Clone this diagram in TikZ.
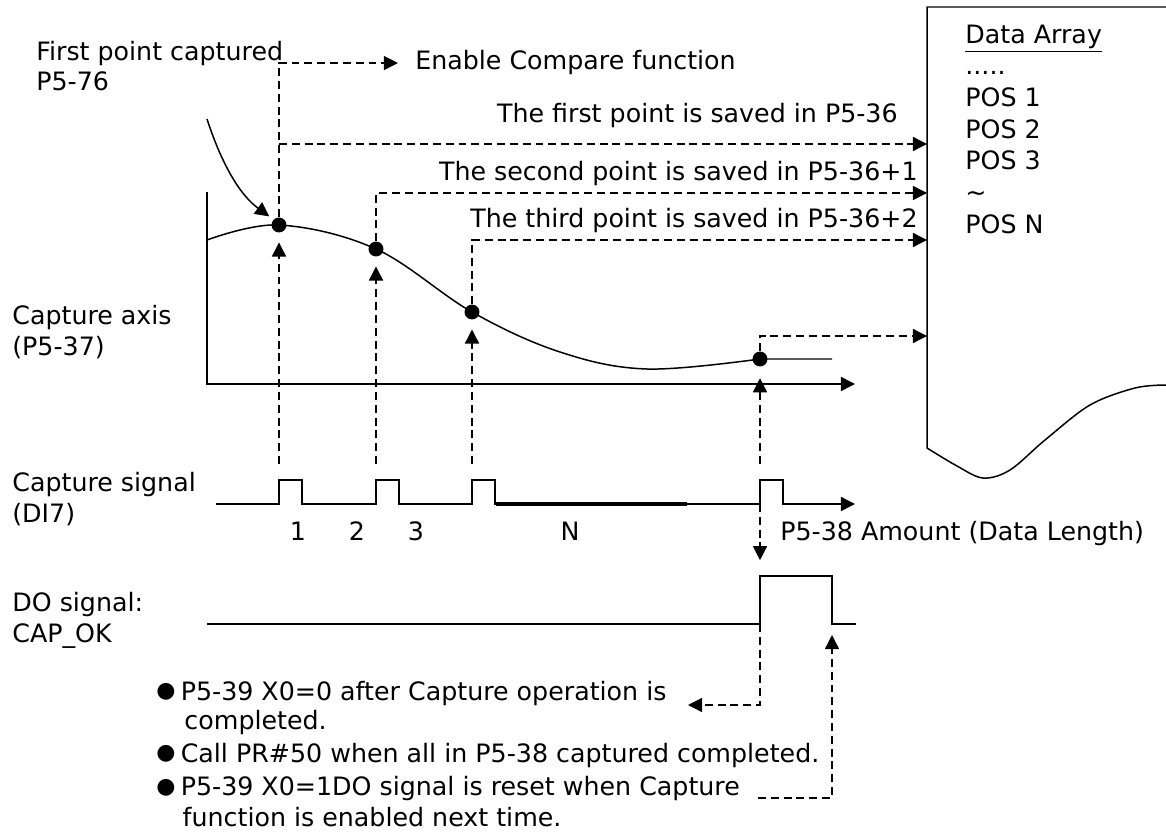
\documentclass[tikz,border=0pt]{standalone}
\usepackage{fontspec}
\setmainfont{DejaVu Sans}
\usetikzlibrary{arrows.meta,calc}

\newcommand{\bulletmark}{\raisebox{1.2pt}{\fontsize{12.5}{12.5}\selectfont ●}\hspace{3pt}}

\begin{document}
\begin{tikzpicture}[x=0.02cm,y=-0.02cm,
  font=\fontsize{14.4}{17.2}\selectfont,
  every node/.style={inner sep=0pt},
  lbl/.style={anchor=base west,align=left},
  tri/.style={-{Triangle[length=8pt,width=8pt]}},
  dsh/.style={dash pattern=on 4.5pt off 2.8pt,line width=0.75pt},
  sig/.style={line width=0.85pt},
  dot/.style={circle,fill,minimum size=8.5pt}]
  \useasboundingbox (0,0) rectangle (1166,838);

  % Labels on the left (base = last line)
  \node[lbl] (first) at (36,91) {First point captured\\P5-76};
  \node[lbl] (axis) at (12,355) {Capture axis\\(P5-37)};
  \node[lbl] (capsig) at (12,522) {Capture signal\\(DI7)};
  \node[lbl] (dosig) at (12,642) {DO signal:\\CAP\_OK};

  % Data array
  \draw[sig] (1166,7) -- (927,7) -- (927,448)
    -- plot[smooth,tension=0.55] coordinates {(927,448) (957,466) (983,478) (1010,470) (1045,440) (1090,405) (1135,388) (1166,385)};
  \node[lbl,font=\fontsize{14.4}{18}\selectfont] (arr) at (965,233)
    {\underline{Data Array}\\.....\\POS 1\\POS 2\\POS 3\\\textasciitilde\\POS N};
  \coordinate (a1) at (927,144);
  \coordinate (a2) at (927,193);
  \coordinate (a3) at (927,240);
  \coordinate (a4) at (927,336);

  % Capture axis and curve
  \draw[sig,tri] (207,192) -- (207,384) -- (855,384);
  \draw[sig] plot[smooth,tension=0.6] coordinates
    {(207,240) (279,225) (376,249) (472,312) (560,352) (647,369) (760,359)} -- (832,359);
  \node[dot] (p1) at (279,225) {};
  \node[dot] (p2) at (376,249) {};
  \node[dot] (p3) at (472,312) {};
  \node[dot] (p4) at (760,359) {};

  % Texts for the saved points
  \node[lbl] (en) at (415,70) {Enable Compare function};
  \node[anchor=base east] (t1) at (898,123) {The first point is saved in P5-36};
  \node[anchor=base east] (t2) at (918,180) {The second point is saved in P5-36+1};
  \node[anchor=base east] (t3) at (918,227) {The third point is saved in P5-36+2};

  % Capture signal
  \draw[sig,tri] (216,504) foreach \x in {279,376,472,760}
    {-- (\x,504) -- (\x,480) -- (\x+23,480) -- (\x+23,504)} -- (855,504);
  \draw[line width=1.8pt] (496,504) -- (687,504);
  \coordinate (c1) at (279,464);
  \coordinate (c2) at (376,464);
  \coordinate (c3) at (472,464);
  \coordinate (c4) at (760,464);
  \coordinate (q4) at (760,504);
  \node[anchor=base] (n1) at (298,540) {1};
  \node[anchor=base] (n2) at (357,540) {2};
  \node[anchor=base] (n3) at (416,540) {3};
  \node[anchor=base] (nn) at (570,540) {N};
  \node[lbl] (amount) at (780,540) {P5-38 Amount (Data Length)};

  % DO signal
  \draw[sig] (207,624) -- (760,624) -- (760,576) -- (832,576) -- (832,624) -- (856,624);
  \coordinate (d1) at (760,624);
  \coordinate (dhi) at (760,576);
  \coordinate (d2) at (832,635);

  % Dashed connectors
  \coordinate (fa) at (207,119);
  \draw[sig,tri,shorten >=3pt] (fa) .. controls (222,165) and (240,195) .. (p1.135);
  \draw[dsh,tri,shorten >=9.7pt] (p1.north) |- (en.west);
  \draw[dsh,tri] (p1.north |- a1) -- (a1);
  \draw[dsh,tri] (p2.north) |- (a2);
  \draw[dsh,tri] (p3.north) |- (a3);
  \draw[dsh,tri] (p4.north) |- (a4);
  \draw[dsh,tri,shorten >=5.5pt] (c1) -- (p1.south);
  \draw[dsh,tri,shorten >=5.5pt] (c2) -- (p2.south);
  \draw[dsh,tri,shorten >=5.5pt] (c3) -- (p3.south);
  \draw[dsh,tri,shorten >=6.5pt] (c4) -- (p4.south);
  \draw[dsh,tri,shorten >=9pt] (q4) -- (dhi);

  % Notes (base = last line)
  \node[lbl,font=\fontsize{14.4}{16.5}\selectfont] (note1) at (156,729) {\bulletmark P5-39 X0=0 after Capture operation is\\\hspace*{16pt}completed.};
  \node[lbl] (note2) at (156,762) {\bulletmark Call PR\#50 when all in P5-38 captured completed.};
  \node[lbl,font=\fontsize{14.4}{17.1}\selectfont] (note3) at (156,826) {\bulletmark P5-39 X0=1DO signal is reset when Capture\\\hspace*{15pt}function is enabled next time.};
  \coordinate (b1) at (688,705);
  \coordinate (b2) at (758,798);
  \draw[dsh,tri] (d1) |- (b1);
  \draw[dsh,tri] (b2) -| (d2);
\end{tikzpicture}
\end{document}
